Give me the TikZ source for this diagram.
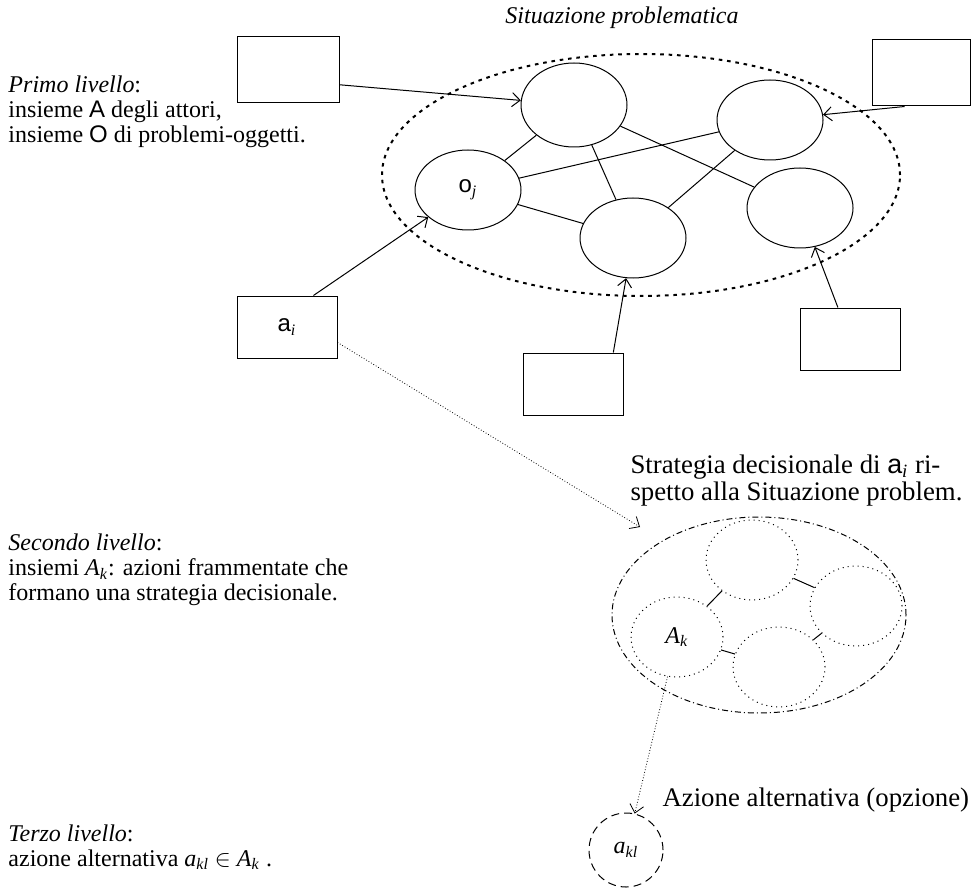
\documentclass[tikz,border=0pt]{standalone}
\usepackage{fontspec}
\setmainfont{Liberation Serif}
\newfontfamily\arialf{Liberation Sans}
\usetikzlibrary{shapes.geometric,arrows.meta}
\newcommand{\Akk}{\textit{A}\textsubscript{\textit{k}}}
\newcommand{\akl}{\textit{a}\textsubscript{\textit{kl}}}
\tikzset{
        oggetto/.style={draw, ellipse, minimum width=53pt, minimum height=40pt, inner sep=0pt},
        attore/.style={draw, rectangle, minimum width=50pt, minimum height=31pt, inner sep=0pt},
        azione/.style={draw, ellipse, dotted, minimum width=46pt, minimum height=40pt, inner sep=0pt},
        testo/.style={align=left, anchor=west, inner sep=0pt},
        grande/.style={font=\fontsize{13.4}{13.6}\selectfont},
        freccia/.style={-{Straight Barb[length=4pt,width=7pt]}}
}
\begin{document}
\begin{tikzpicture}[x=0.5pt, y=-0.5pt, font=\fontsize{12}{12.5}\selectfont, line width=0.5pt]
        \useasboundingbox (0,0) rectangle (972,887);
        \node (titolo) at (622,18) {\textit{Situazione problematica}};
        \node[draw, ellipse, line width=1pt, dash pattern=on 1.8pt off 2.4pt, minimum width=259pt, minimum height=121pt] (sit) at (641,175) {};
        \node[oggetto, minimum height=42pt] (e1) at (574,105) {};
        \node[oggetto] (e2) at (770,120) {};
        \node[oggetto] (oj) at (468,190) {{\arialf o}\textsubscript{\textit{j}}};
        \node[oggetto] (e4) at (633,238) {};
        \node[oggetto] (e5) at (800,208) {};
        \draw (e1) -- (oj);
        \draw (e1) -- (e4);
        \draw (e1) -- (e5);
        \draw (oj) -- (e2);
        \draw (oj) -- (e4);
        \draw (e4) -- (e2);
        \node[attore, minimum width=51pt, minimum height=33pt] (b1) at (288,70) {};
        \node[attore, minimum width=49pt, minimum height=33pt] (b2) at (921,73) {};
        \node[attore] (ai) at (287,327) {{\arialf a}\textsubscript{\textit{i}}};
        \node[attore] (b4) at (573,384) {};
        \node[attore] (b5) at (850,339) {};
        \draw[freccia] (b1.-16) -- (e1);
        \draw[freccia] (b2.-116) -- (e2);
        \draw[freccia] (ai.50) -- (oj);
        \draw[freccia] (b4.38) -- (e4);
        \draw[freccia] (b5.111) -- (e5);
        \node[testo] (primo) at (8,112) {\textit{Primo livello}:\\insieme {\arialf A} degli attori,\\insieme {\arialf O} di problemi-oggetti.};
        \node[testo, grande, anchor=north west] (strategia) at (630,454) {Strategia decisionale di {\arialf a}\textsubscript{\textit{i}} ri-\\spetto alla Situazione problem.};
        \coordinate (ingresso) at (640,527);
        \draw[freccia, densely dotted, line width=0.4pt] (ai.-17) -- (ingresso);
        \node[draw, ellipse, dash pattern=on 3pt off 1.5pt on 0.5pt off 1.5pt, minimum width=147pt, minimum height=98pt] (strat) at (759,615) {};
        \node[azione] (c1) at (752,560) {};
        \node[azione] (ak) at (677,637) {\Akk};
        \node[azione] (c3) at (779,667) {};
        \node[azione] (c4) at (856,606) {};
        \draw (ak) -- (c1);
        \draw (ak) -- (c3);
        \draw (c1) -- (c4);
        \draw (c3) -- (c4);
        \node[testo] (secondo) at (8,570) {\textit{Secondo livello}:\\insiemi \Akk: azioni frammentate che\\formano una strategia decisionale.};
        \node[draw, circle, dash pattern=on 4pt off 2.5pt, minimum size=37pt, inner sep=0pt] (akl) at (626,850) {\akl};
        \draw[freccia, densely dotted, line width=0.4pt] (ak) -- (akl);
        \node[testo, grande] (opzione) at (662,800) {Azione alternativa (opzione)};
        \node[testo] (terzo) at (8,847) {\textit{Terzo livello}:\\azione alternativa \akl{} $\in$ \Akk{} .};
\end{tikzpicture}
\end{document}
